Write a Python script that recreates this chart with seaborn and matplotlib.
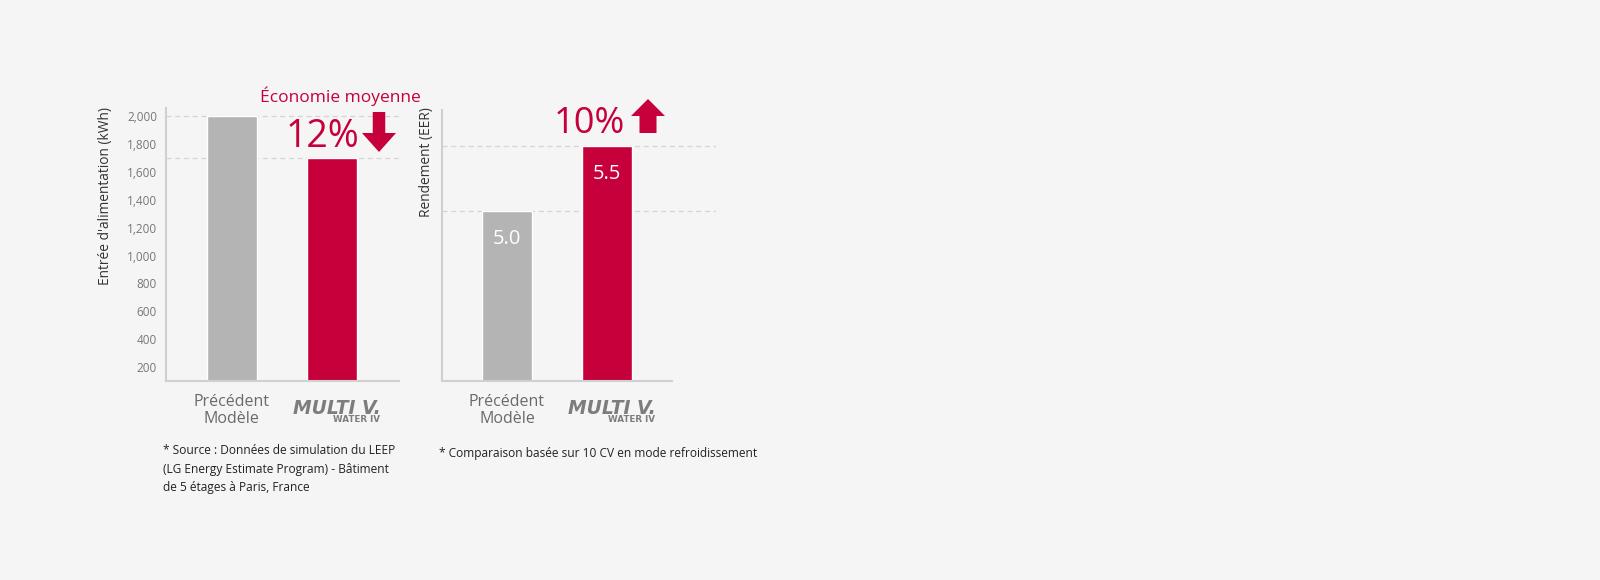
import matplotlib
matplotlib.use("Agg")
import matplotlib.pyplot as plt
import seaborn as sns
import pandas as pd
from matplotlib.patches import Polygon
from matplotlib.ticker import FuncFormatter

# ---------------- data ----------------
models = ["Précédent\nModèle", "MULTI V WATER IV"]
energy_kwh = [2000, 1700]
eer_values = [5.0, 5.5]
energy_ticks = [200, 400, 600, 800, 1000, 1200, 1400, 1600, 1800, 2000]
energy_ylabel = "Entrée d'alimentation (kWh)"
eer_ylabel = "Rendement (EER)"
saving_title = "Économie moyenne"
saving_pct = "12%"
gain_pct = "10%"
note_left = "* Source : Données de simulation du LEEP\n(LG Energy Estimate Program) - Bâtiment\nde 5 étages à Paris, France"
note_right = "* Comparaison basée sur 10 CV en mode refroidissement"

# ---------------- style ----------------
BG = "#f5f5f5"
GRAY = "#b4b4b4"
RED = "#c5003a"
SPINE = "#d0d0d0"
GRID = "#d4d4d4"

sns.set_theme(style="white")
plt.rcParams['font.family'] = ['Open Sans', 'DejaVu Sans']

W, H = 1600, 580
fig = plt.figure(figsize=(16, 5.8), dpi=100)
fig.patch.set_facecolor(BG)


def fx(px):
    return px / W


def fy(py):
    return 1 - py / H


def PT(px):
    return px * 0.72


df1 = pd.DataFrame({"model": models, "value": energy_kwh})
df2 = pd.DataFrame({"model": models, "value": eer_values})

# ---------------- left chart ----------------
ax1 = fig.add_axes([fx(166), fy(381), (399 - 166) / W, (381 - 108) / H])
ax1.set_facecolor(BG)
sns.barplot(data=df1, x="model", y="value", hue="model", palette=[GRAY, RED],
            width=0.5, saturation=1, legend=False, ax=ax1, zorder=2)
ax1.set_xlim(-0.655, 1.668)
ax1.set_ylim(100, 2060)
ax1.set_yticks(energy_ticks)
ax1.yaxis.set_major_formatter(FuncFormatter(lambda v, p: f"{int(v):,}"))
for v in energy_kwh:
    ax1.axhline(v, color=GRID, lw=0.9, ls=(0, (4, 3)), zorder=1)

# ---------------- right chart ----------------
ax2 = fig.add_axes([fx(441.7), fy(381), (716 - 441.7) / W, (381 - 110) / H])
ax2.set_facecolor(BG)
sns.barplot(data=df2, x="model", y="value", hue="model", palette=[GRAY, RED],
            width=0.5, saturation=1, legend=False, ax=ax2, zorder=2)
ax2.set_xlim(-0.653, 2.09)
ax2.set_ylim(3.69, 5.78)
ax2.set_yticks([])
for v in eer_values:
    ax2.axhline(v, color=GRID, lw=0.9, ls=(0, (4, 3)), zorder=1)
ax2.spines['bottom'].set_bounds(-0.653, 1.65)
for i, v in enumerate(eer_values):
    ax2.annotate(f"{v:.1f}", xy=(i, v), xytext=(0, PT(-32.5)), textcoords="offset points",
                 ha="center", va="baseline", color="white", fontsize=14.5, zorder=3)

# ---------------- common axis styling ----------------
for ax in (ax1, ax2):
    for s in ("top", "right"):
        ax.spines[s].set_visible(False)
    for s in ("left", "bottom"):
        ax.spines[s].set_color(SPINE)
        ax.spines[s].set_linewidth(1.5)
    ax.set_xlabel("")
    ax.set_ylabel("")
    ax.set_xticks([0, 1])
    ax.set_xticklabels([models[0], ""])
    ax.tick_params(axis="x", length=0, pad=PT(13), labelsize=11.5, labelcolor="#6a6a6a")
    ax.tick_params(axis="y", length=0, pad=PT(9), labelsize=8.5, labelcolor="#777777")
    for lbl in ax.get_xticklabels():
        lbl.set_linespacing(1.1)
    # MULTI V logo as text
    ax.annotate("MULTI V.", xy=(1, 0), xycoords=("data", "axes fraction"),
                xytext=(PT(5), PT(-18)), textcoords="offset points", ha="center", va="top",
                fontsize=13.5, fontweight="bold", fontstyle="italic", color="#7d7d7d",
                family=["DejaVu Sans"])
    ax.annotate("WATER IV", xy=(1, 0), xycoords=("data", "axes fraction"),
                xytext=(PT(48), PT(-34)), textcoords="offset points", ha="right", va="top",
                fontsize=6.3, fontweight="bold", color="#7d7d7d", family=["DejaVu Sans"])

# ---------------- labels ----------------
fig.text(fx(105), fy(107), energy_ylabel, rotation=90, ha="center", va="top",
         fontsize=9.9, color="#333333")
fig.text(fx(427), fy(107), eer_ylabel, rotation=90, ha="center", va="top",
         fontsize=9.9, color="#333333")

fig.text(fx(340.5), fy(102.5), saving_title, ha="center", va="baseline",
         fontsize=12.5, color=RED)
fig.text(fx(286), fy(147), saving_pct, ha="left", va="baseline", fontsize=27, color=RED)
fig.text(fx(554), fy(133), gain_pct, ha="left", va="baseline", fontsize=26, color=RED)


def arrow(xc, ytop, ybot, head_w, shaft_w, head_h, down=True):
    hw, sw = head_w / 2, shaft_w / 2
    if down:
        pts = [(xc - sw, ytop), (xc + sw, ytop), (xc + sw, ybot - head_h), (xc + hw, ybot - head_h),
               (xc, ybot), (xc - hw, ybot - head_h), (xc - sw, ybot - head_h)]
    else:
        pts = [(xc - sw, ybot), (xc + sw, ybot), (xc + sw, ytop + head_h), (xc + hw, ytop + head_h),
               (xc, ytop), (xc - hw, ytop + head_h), (xc - sw, ytop + head_h)]
    pts = [(fx(x), fy(y)) for x, y in pts]
    fig.patches.append(Polygon(pts, closed=True, transform=fig.transFigure,
                               facecolor=RED, edgecolor="none"))


arrow(379, 112, 152, 34, 12.5, 19, down=True)
arrow(648, 99, 133, 34, 17, 17, down=False)

fig.text(fx(163), fy(491), note_left, ha="left", va="baseline", fontsize=8.6,
         color="#222222", linespacing=1.55)
fig.text(fx(439), fy(456.5), note_right, ha="left", va="baseline", fontsize=8.6,
         color="#222222")

fig.savefig("out.png", dpi=100, facecolor=BG)
